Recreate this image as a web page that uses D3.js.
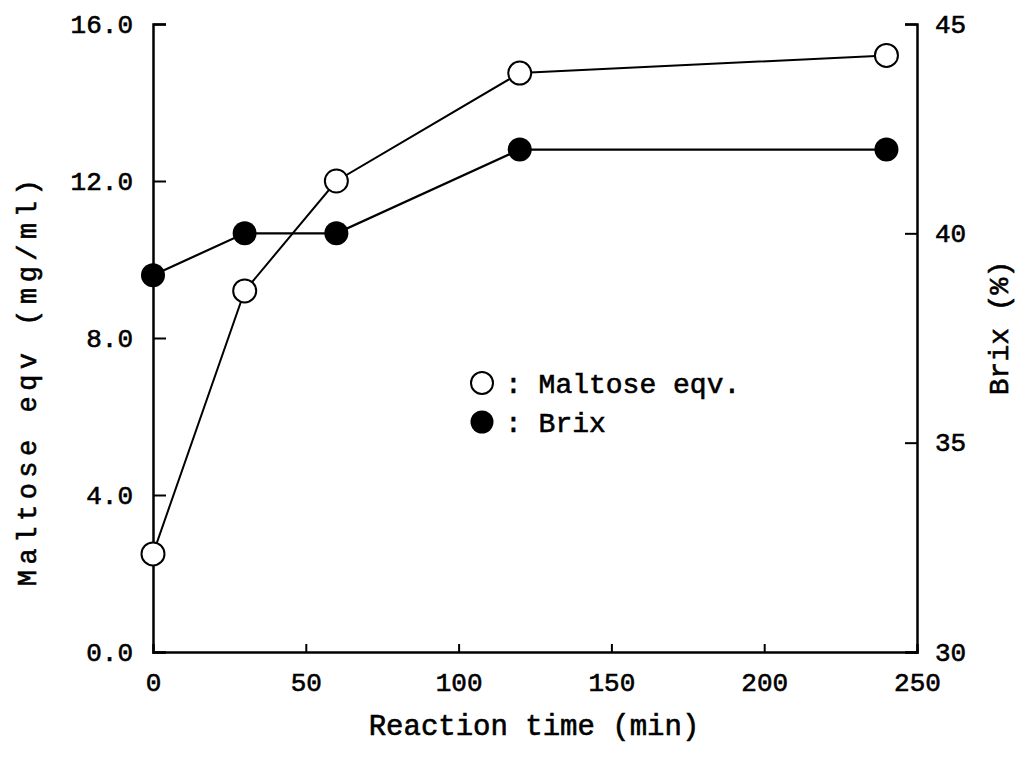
<!DOCTYPE html>
<html>
<head>
<meta charset="utf-8">
<script src="https://cdn.jsdelivr.net/npm/d3@7"></script>
<style>
  body { margin: 0; background: #fff; }
  text { fill: #000; stroke: #000; stroke-width: 0.6px; font-family: "Liberation Mono", "DejaVu Sans Mono", monospace; }
</style>
</head>
<body>
<div id="chart"></div>
<script>
var times = [0, 30, 60, 120, 240];
var maltose = [2.5, 9.2, 12.0, 14.75, 15.2];
var brix = [39.0, 40.0, 40.0, 42.0, 42.0];
var xTicks = [0, 50, 100, 150, 200, 250];
var yLeftTicks = [0, 4, 8, 12, 16];
var yRightTicks = [30, 35, 40, 45];

function drawChart() {
  var width = 1026, height = 758;
  var pLeft = 153, pRight = 917, pTop = 24, pBottom = 652;

  var svg = d3.select("#chart")
    .append("svg")
    .attr("width", width)
    .attr("height", height);

  var x = d3.scaleLinear().domain([0, 250]).range([pLeft, pRight]);
  var yL = d3.scaleLinear().domain([0, 16]).range([pBottom, pTop]);
  var yR = d3.scaleLinear().domain([30, 45]).range([pBottom, pTop]);

  // axes, ticks pointing inward
  var xAxis = svg.append("g")
    .attr("transform", "translate(0," + pBottom + ")")
    .call(d3.axisBottom(x).tickValues(xTicks).tickSize(-8).tickPadding(21).tickFormat(d3.format("d")));

  var leftAxis = svg.append("g")
    .attr("transform", "translate(" + pLeft + ",0)")
    .call(d3.axisLeft(yL).tickValues(yLeftTicks).tickSize(-13).tickPadding(20).tickFormat(d3.format(".1f")));

  var rightAxis = svg.append("g")
    .attr("transform", "translate(" + pRight + ",0)")
    .call(d3.axisRight(yR).tickValues(yRightTicks).tickSize(-12).tickPadding(18).tickFormat(d3.format("d")));

  [xAxis, leftAxis, rightAxis].forEach(function(a) {
    a.select(".domain").attr("stroke", "#000").attr("stroke-width", 2.5);
    a.selectAll(".tick line").attr("stroke", "#000").attr("stroke-width", 2);
    a.selectAll(".tick text").attr("font-size", 26).style("font-family", "Liberation Mono");
  });
  xAxis.select(".tick:first-of-type line").remove();
  xAxis.select(".tick:last-of-type line").remove();

  // lines
  var lineL = d3.line().x(function(d, i) { return x(times[i]); }).y(function(d) { return yL(d); });
  var lineR = d3.line().x(function(d, i) { return x(times[i]); }).y(function(d) { return yR(d); });

  svg.append("path").attr("d", lineL(maltose))
    .attr("fill", "none").attr("stroke", "#000").attr("stroke-width", 2);
  svg.append("path").attr("d", lineR(brix))
    .attr("fill", "none").attr("stroke", "#000").attr("stroke-width", 2.2);

  svg.selectAll(".brix")
    .data(brix)
    .enter()
    .append("circle")
    .attr("cx", function(d, i) { return x(times[i]); })
    .attr("cy", function(d) { return yR(d); })
    .attr("r", 12)
    .attr("fill", "#000");

  svg.selectAll(".malt")
    .data(maltose)
    .enter()
    .append("circle")
    .attr("cx", function(d, i) { return x(times[i]); })
    .attr("cy", function(d) { return yL(d); })
    .attr("r", 11.5)
    .attr("fill", "#fff")
    .attr("stroke", "#000")
    .attr("stroke-width", 2);

  // legend
  var legend = svg.append("g");
  legend.append("circle").attr("cx", 482).attr("cy", 383).attr("r", 11)
    .attr("fill", "#fff").attr("stroke", "#000").attr("stroke-width", 2);
  legend.append("circle").attr("cx", 482).attr("cy", 422).attr("r", 11.5).attr("fill", "#000");
  legend.append("text").attr("x", 505).attr("y", 393).attr("font-size", 28).text(": Maltose eqv.");
  legend.append("text").attr("x", 505).attr("y", 432).attr("font-size", 28).text(": Brix");

  // axis titles
  svg.append("text")
    .attr("x", (pLeft + pRight) / 2 - 1).attr("y", 735)
    .attr("text-anchor", "middle").attr("font-size", 29)
    .text("Reaction time (min)");

  svg.append("text")
    .attr("transform", "translate(36,380) rotate(-90)")
    .attr("text-anchor", "middle").attr("font-size", 27)
    .attr("letter-spacing", 5.5)
    .text("Maltose eqv (mg/ml)");

  svg.append("text")
    .attr("transform", "translate(1008,328) rotate(-90)")
    .attr("text-anchor", "middle").attr("font-size", 28)
    .text("Brix (%)");
}

drawChart();
</script>
</body>
</html>
